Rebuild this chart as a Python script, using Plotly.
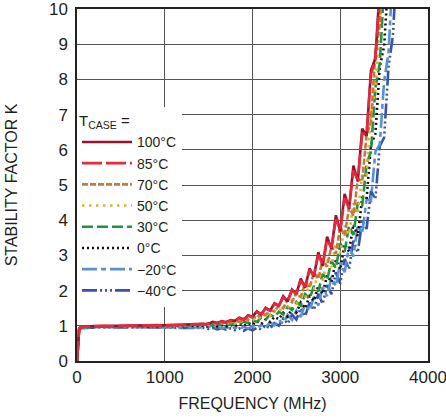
import plotly.graph_objects as go

# Frequency grid (MHz)
FREQ = [0, 25, 50, 100, 200, 300, 400, 500, 600, 700, 800, 900, 1000, 1100, 1200, 1300, 1400, 1450,
        1500, 1550, 1600, 1650, 1700, 1750, 1800, 1850, 1900, 1950, 2000, 2050, 2100, 2150, 2200, 2250,
        2300, 2350, 2400, 2450, 2500, 2550, 2600, 2650, 2700, 2750, 2800, 2850, 2900, 2950, 3000, 3050,
        3100, 3150, 3200, 3250, 3300, 3350, 3400, 3450, 3500, 3550, 3600, 3650]

LABELS = ["100°C", "85°C", "70°C", "50°C", "30°C", "0°C", "−20°C", "−40°C"]

# Stability factor K, 0..1450 MHz
K_100_LOW = [0, 0.93, 0.97, 0.98, 0.99, 0.99, 1.00, 1.00, 1.00, 1.01, 1.01, 1.01, 1.02, 1.02, 1.03, 1.04, 1.05, 1.07]
K_85_LOW = [0, 0.92, 0.97, 0.98, 0.99, 1.00, 0.99, 1.00, 1.01, 1.00, 1.01, 1.02, 1.01, 1.02, 1.03, 1.04, 1.04, 1.06]
K_70_LOW = [0, 0.92, 0.96, 0.98, 0.98, 0.99, 0.99, 1.00, 1.00, 1.00, 1.01, 1.01, 1.01, 1.02, 1.02, 1.03, 1.04, 1.05]
K_50_LOW = [0, 0.92, 0.96, 0.97, 0.98, 0.98, 0.99, 0.99, 1.00, 1.00, 1.00, 1.01, 1.01, 1.01, 1.02, 1.02, 1.03, 1.04]
K_30_LOW = [0, 0.91, 0.96, 0.97, 0.98, 0.98, 0.98, 0.99, 0.99, 0.99, 1.00, 1.00, 1.00, 1.01, 1.01, 1.01, 1.02, 1.03]
K_0_LOW = [0, 0.91, 0.95, 0.97, 0.97, 0.98, 0.98, 0.98, 0.99, 0.99, 0.99, 0.99, 1.00, 1.00, 1.00, 1.00, 1.01, 1.00]
K_M20_LOW = [0, 0.90, 0.94, 0.95, 0.96, 0.96, 0.96, 0.96, 0.97, 0.96, 0.97, 0.97, 0.97, 0.97, 0.97, 0.96, 0.96, 0.95]
K_M40_LOW = [0, 0.89, 0.93, 0.94, 0.95, 0.95, 0.94, 0.95, 0.95, 0.94, 0.95, 0.95, 0.94, 0.95, 0.94, 0.94, 0.93, 0.94]

# Stability factor K, from 1500 MHz upward (50 MHz steps)
K_100_HIGH = [1.06, 1.11, 1.08, 1.13, 1.10, 1.16, 1.14, 1.23, 1.18, 1.30, 1.26, 1.41, 1.32, 1.51, 1.43, 1.64,
              1.57, 1.84, 1.69, 2.03, 1.90, 2.34, 2.08, 2.63, 2.40, 3.09, 2.70, 3.53, 3.18, 4.14, 3.69, 4.75,
              4.32, 5.55, 5.10, 6.60, 6.40, 8.25, 8.60, 10.6]
K_85_HIGH = [1.05, 1.10, 1.07, 1.12, 1.09, 1.15, 1.13, 1.215, 1.175, 1.285, 1.255, 1.39, 1.32, 1.49, 1.43, 1.62,
             1.57, 1.81, 1.70, 2.00, 1.91, 2.29, 2.11, 2.58, 2.43, 3.02, 2.75, 3.45, 3.22, 4.03, 3.73, 4.63,
             4.35, 5.41, 5.14, 6.46, 6.44, 8.15, 8.55, 10.45]
K_70_HIGH = [1.07, 1.04, 1.09, 1.06, 1.11, 1.08, 1.14, 1.11, 1.20, 1.17, 1.26, 1.22, 1.36, 1.30, 1.45, 1.41,
             1.57, 1.50, 1.76, 1.67, 1.94, 1.82, 2.22, 2.08, 2.51, 2.33, 2.90, 2.68, 3.27, 3.04, 3.81, 3.56,
             4.36, 4.13, 5.17, 5.11, 6.42, 6.80, 8.75, 9.55, 11.85]
K_50_HIGH = [1.02, 1.065, 1.03, 1.08, 1.05, 1.10, 1.07, 1.14, 1.10, 1.185, 1.15, 1.26, 1.20, 1.34, 1.28, 1.43,
             1.38, 1.58, 1.47, 1.73, 1.63, 1.96, 1.78, 2.19, 2.04, 2.53, 2.28, 2.87, 2.67, 3.35, 3.07, 3.84,
             3.59, 4.48, 4.18, 5.30, 5.28, 7.05, 7.65, 9.75, 10.65]
K_30_HIGH = [1.04, 1.005, 1.05, 1.015, 1.06, 1.03, 1.08, 1.045, 1.12, 1.08, 1.16, 1.11, 1.24, 1.175, 1.31, 1.25,
             1.40, 1.32, 1.54, 1.45, 1.68, 1.57, 1.90, 1.77, 2.13, 1.97, 2.48, 2.30, 2.84, 2.64, 3.34, 3.11,
             3.84, 3.58, 4.50, 4.40, 5.60, 5.95, 7.75, 8.45, 10.65]
K_0_HIGH = [0.98, 1.02, 0.98, 1.02, 0.98, 1.025, 0.99, 1.05, 1.00, 1.075, 1.03, 1.13, 1.05, 1.18, 1.11, 1.25,
            1.19, 1.37, 1.26, 1.48, 1.38, 1.66, 1.50, 1.84, 1.71, 2.14, 1.91, 2.43, 2.24, 2.87, 2.60, 3.32,
            3.11, 3.88, 3.55, 4.63, 4.60, 6.15, 6.45, 8.35, 8.95, 10.95]
K_M20_HIGH = [0.98, 0.935, 0.97, 0.925, 0.96, 0.92, 0.96, 0.91, 0.97, 0.92, 0.99, 0.945, 1.02, 0.955, 1.10, 1.015,
              1.17, 1.06, 1.31, 1.17, 1.43, 1.25, 1.63, 1.42, 1.82, 1.58, 2.10, 1.84, 2.39, 2.12, 2.80, 2.52,
              3.25, 2.97, 3.86, 3.62, 4.60, 4.55, 5.95, 6.15, 7.95, 8.75, 11.15]
K_M40_HIGH = [0.91, 0.945, 0.90, 0.935, 0.89, 0.925, 0.88, 0.925, 0.86, 0.925, 0.87, 0.945, 0.90, 1.015, 0.92, 1.08,
              1.00, 1.21, 1.06, 1.32, 1.18, 1.50, 1.27, 1.66, 1.45, 1.91, 1.62, 2.16, 1.90, 2.52, 2.20, 2.90,
              2.61, 3.42, 3.08, 4.00, 3.75, 4.83, 4.60, 6.10, 6.35, 8.35, 9.25, 11.55]

X_TICKS = [0, 1000, 2000, 3000, 4000]
Y_TICKS = [0, 1, 2, 3, 4, 5, 6, 7, 8, 9, 10]

SERIES = [
    (K_100_LOW, K_100_HIGH), (K_85_LOW, K_85_HIGH), (K_70_LOW, K_70_HIGH), (K_50_LOW, K_50_HIGH),
    (K_30_LOW, K_30_HIGH), (K_0_LOW, K_0_HIGH), (K_M20_LOW, K_M20_HIGH), (K_M40_LOW, K_M40_HIGH),
]
COLORS = ["#9b1230", "#e62a3c", "#c47a3a", "#e3b12a", "#27913f", "#111111", "#5b8fd6", "#3553ad"]
DASHES = ["solid", "20px,4px", "6px,2px", "2.5px,4.5px", "11px,4px", "2px,3px",
          "15px,4px,5px,4px", "15px,3px,2px,3px,2px,3px,2px,3px"]
# drawing order: coldest first, 100°C just below 85°C
DRAW_ORDER = [7, 6, 5, 4, 3, 2, 0, 1]

FONT = "Liberation Sans, Arial, sans-serif"
TXT = "#231f20"

fig = go.Figure()
for i in DRAW_ORDER:
    low, high = SERIES[i]
    y = low + high
    y = y + [None] * (len(FREQ) - len(y))
    fig.add_trace(go.Scatter(
        x=FREQ, y=y, mode="lines", name=LABELS[i], legendrank=i + 1,
        line=dict(color=COLORS[i], width=2.6, dash=DASHES[i]),
        hoverinfo="skip",
    ))

axis_common = dict(
    showline=True, linecolor="#222", linewidth=1.5, mirror=True,
    showgrid=True, gridcolor="#555", gridwidth=1.2, automargin=False,
    zeroline=False, ticks="", ticklabeloverflow="allow",
    tickfont=dict(family=FONT, size=17, color=TXT),
)

fig.update_layout(
    width=446, height=419,
    margin=dict(l=77, r=18, t=9, b=58),
    paper_bgcolor="white", plot_bgcolor="white",
    font=dict(family=FONT, color=TXT),
    xaxis=dict(range=[0, 4000], tickvals=X_TICKS, ticktext=[str(v) for v in X_TICKS],
               title=dict(text="FREQUENCY (MHz)", font=dict(family=FONT, size=16, color=TXT), standoff=12),
               **axis_common),
    yaxis=dict(range=[0, 10], tickvals=Y_TICKS, ticktext=[str(v) for v in Y_TICKS],
               title=dict(text="STABILITY FACTOR K", font=dict(family=FONT, size=16, color=TXT), standoff=27),
               ticklabelstandoff=4, **axis_common),
    legend=dict(
        x=0, y=0.722, xanchor="left", yanchor="top",
        bgcolor="white", borderwidth=0,
        font=dict(family=FONT, size=14, color=TXT),
        title=dict(text="T<sub>CASE</sub> =", font=dict(family=FONT, size=15, color=TXT)),
        traceorder="normal", itemwidth=50, tracegroupgap=0,
    ),
    showlegend=True,
)

fig.write_html("out.html", config={"displayModeBar": False},
               post_script="document.body.style.margin='0';")
